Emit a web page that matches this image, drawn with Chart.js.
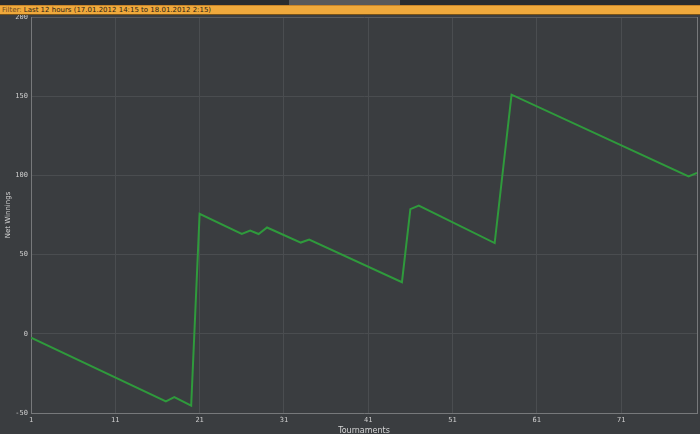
<!DOCTYPE html>
<html>
<head>
<meta charset="utf-8">
<script src="https://cdn.jsdelivr.net/npm/chart.js@4"></script>
<style>
  html, body { margin: 0; padding: 0; background: #3a3d40; }
  #wrap { position: relative; width: 700px; height: 434px; overflow: hidden; }
  #topstrip { position: absolute; left: 0; top: 0; width: 700px; height: 5px; background: #2a2c2e; }
  #tab { position: absolute; left: 289px; top: 0; width: 111px; height: 5px; background: #58595b; }
  #filter {
    position: absolute; left: 0; top: 5px; width: 700px; height: 10px;
    background: #efa93c; border-top: 1px solid #c9862a; border-bottom: 1px solid #7a5418;
    font: 7px "DejaVu Sans", sans-serif; line-height: 9px; color: #2b2216;
    padding-left: 2px; box-sizing: border-box; white-space: nowrap;
  }
  #filter span { color: #6e4a22; }
  canvas { position: absolute; left: 0; top: 0; }
</style>
</head>
<body>
<div id="wrap">
  <canvas id="chart" width="700" height="434"></canvas>
  <div id="topstrip"><div id="tab"></div></div>
  <div id="filter"><span>Filter:</span> Last 12 hours (17.01.2012 14:15 to 18.01.2012 2:15)</div>
</div>
<script>
// vertices of the net winnings line
const tournaments = [1, 17, 18, 20, 21, 26, 27, 28, 29, 33, 34, 45, 46, 47, 56, 58, 79, 80];
const netWinnings = [-2.5, -42.7, -40, -45.3, 75.8, 63, 65.2, 63, 67.1, 57.6, 59.5, 32.6, 78.7, 81, 57.3, 151, 99.3, 101.6];
const xTicks = [1, 11, 21, 31, 41, 51, 61, 71];
const yTicks = [-50, 0, 50, 100, 150, 200];

const tickFont = { family: "DejaVu Sans Mono", size: 7 };

new Chart(document.getElementById("chart").getContext("2d"), {
  type: "line",
  data: {
    datasets: [{
      data: tournaments.map((t, i) => ({ x: t, y: netWinnings[i] })),
      borderColor: "#2f9a3c",
      borderWidth: 2,
      pointRadius: 0,
      tension: 0,
      fill: false
    }]
  },
  options: {
    responsive: false,
    animation: false,
    layout: { padding: { top: 17, right: 3, left: 0, bottom: 0 } },
    plugins: { legend: { display: false }, tooltip: { enabled: false } },
    scales: {
      x: {
        type: "linear",
        min: 1,
        max: 80,
        afterBuildTicks: (s) => { s.ticks = xTicks.concat([80]).map(v => ({ value: v })); },
        afterFit: (s) => { s.height = 21; },
        ticks: {
          color: "#cfcfcf",
          font: tickFont,
          padding: 3,
          maxRotation: 0,
          autoSkip: false,
          callback: (v) => (xTicks.includes(v) ? String(v) : "")
        },
        grid: { color: (c) => (c.tick && c.tick.value === 80 ? "#77797b" : "#4a4d50"), drawTicks: false, lineWidth: 1 },
        border: { color: "#77797b" },
        title: {
          display: true,
          text: "Tournaments",
          color: "#d6d6d6",
          font: { family: "DejaVu Sans", size: 8 },
          padding: { top: 0, bottom: -2 }
        }
      },
      y: {
        min: -50,
        max: 200,
        afterBuildTicks: (s) => { s.ticks = yTicks.map(v => ({ value: v })); },
        afterFit: (s) => { s.width = 31; },
        ticks: { color: "#cfcfcf", font: tickFont, padding: 3 },
        grid: { color: (c) => (c.tick && c.tick.value === 200 ? "#5a5d60" : "#4a4d50"), drawTicks: false, lineWidth: 1 },
        border: { color: "#77797b" },
        title: {
          display: true,
          text: "Net Winnings",
          color: "#d6d6d6",
          font: { family: "DejaVu Sans", size: 7 },
          padding: { top: 4, bottom: 0 }
        }
      }
    }
  }
});
</script>
</body>
</html>
